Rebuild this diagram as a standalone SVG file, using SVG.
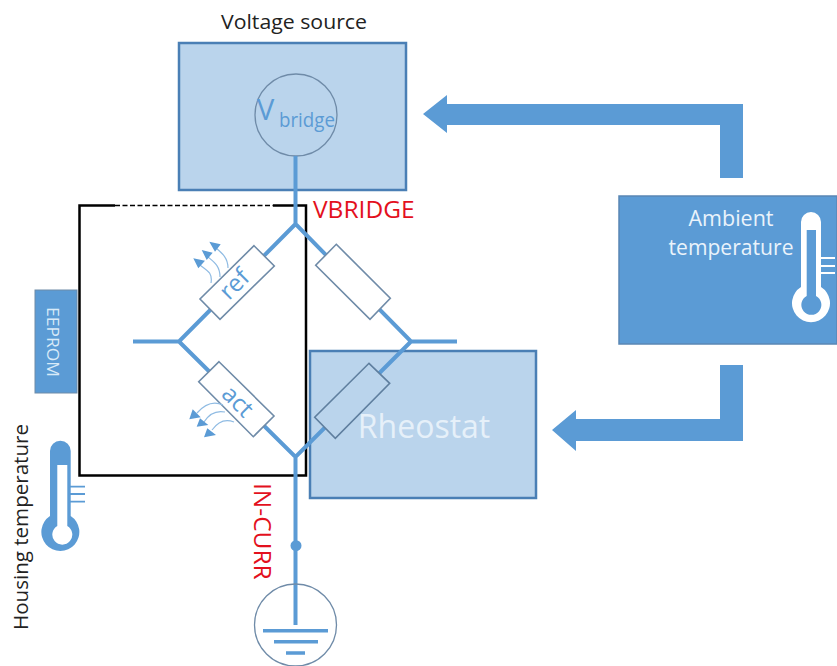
<svg xmlns="http://www.w3.org/2000/svg" width="837" height="666" viewBox="0 0 837 666">
<style>
text{font-family:"Open Sans","Noto Sans","Liberation Sans",sans-serif}
.box{fill:#bad4ec;stroke:#4a7fb5;stroke-width:2.5}
.solid{fill:#5b9bd5}
.wire{fill:none;stroke:#5b9bd5;stroke-width:4}
.res{fill:#fff;stroke:#6f8ba8;stroke-width:1.6}
.ring{fill:none;stroke:#6f8ba8;stroke-width:1.3}
.wavy{fill:none;stroke:#8fbbe3;stroke-width:1.2}
.red{fill:#e3101d;font-size:24.5px}
.dark{fill:#222;font-size:20.5px}
</style>
<rect width="837" height="666" fill="#fff"/>
<g id="bridge-frame" fill="none" stroke="#000">
<path d="M115 205.500H79.500V475.500H306V205.500H273" stroke-width="2.500"/>
<path d="M115 205.500H273" stroke-width="1.500" stroke-dasharray="5 2.500"/>
</g>
<g id="voltage-source">
<rect class="box" x="179" y="43" width="227" height="147"/>
<circle class="ring" cx="296" cy="115" r="41"/>
<text x="257" y="120" font-size="29" fill="#5b9bd5">V</text>
<text x="279" y="127" font-size="20" fill="#5b9bd5" textLength="56" lengthAdjust="spacingAndGlyphs">bridge</text>
<text class="dark" x="294" y="29" text-anchor="middle" textLength="146" lengthAdjust="spacingAndGlyphs">Voltage source</text>
</g>
<g id="rheostat">
<rect class="box" x="310" y="351" width="226" height="147"/>
<text x="424" y="438" font-size="32" fill="#e6f0f9" text-anchor="middle">Rheostat</text>
</g>
<g id="connectors">
<path class="wire" d="M295.500 156V224L411 341.500H457M295.500 224L179 341.500H133M179 341.500L295.500 457L411 341.500M295.500 457V625"/>
<path class="solid" d="M720 178H743V104H447V95L423 114L447 133V125H720Z"/>
<path class="solid" d="M720 365H743V441H576V451L552 430L576 410V419H720Z"/>
</g>
<g id="res-ref">
<path class="res" d="M254 245.700L274.300 266L220 319.300L200 299Z"/>
<text x="0" y="0" font-size="24" fill="#5b9bd5" text-anchor="middle" transform="translate(240 290) rotate(-45)">ref</text>
</g>
<g id="res-act">
<path class="res" d="M219 361.700L274 416L253.300 436.700L198.700 381.700Z"/>
<text x="0" y="0" font-size="24" fill="#5b9bd5" text-anchor="middle" transform="translate(232 407) rotate(45)">act</text>
</g>
<g id="res-top-right">
<path class="res" d="M336.300 244.300L390.300 298.300L370 319.300L315.700 265.300Z"/>
</g>
<g id="res-bottom-right">
<path d="M369 363.300L389.700 383.300L335.300 438.300L314.700 417.300Z" fill="#bad4ec" stroke="#5f7f9f" stroke-width="1.600"/>
</g>
<g id="ref-heat">
<path class="wavy" d="M211 283C213 272 206 270 200 265M220 277C220 266 214 262 208 257M228 268C228 258 222 253 216 248"/>
<path class="solid" d="M193.300 258.300L205 260.700L198.300 268.300ZM201.700 250L212.700 252.700L206.700 260ZM209.300 241.700L220.700 244.300L215 251.700Z"/>
</g>
<g id="act-heat">
<path class="wavy" d="M223 405C212 400 204 405 197 413M225 412C215 410 209 414 204 422M234 422C224 418 217 423 212 430"/>
<path class="solid" d="M189.300 419.300L192.700 409.300L200.700 417.300ZM196.700 426.700L200 418.300L208.300 425ZM204 437.300L207.300 428.300L216 435Z"/>
</g>
<g id="eeprom">
<rect class="solid" x="35" y="290" width="42" height="103" stroke="#6f8ba8" stroke-width="1"/>
<text transform="translate(47 342) rotate(90)" font-size="17" fill="#d8eaf8" text-anchor="middle" textLength="70" lengthAdjust="spacingAndGlyphs">EEPROM</text>
</g>
<g id="housing-temperature">
<path class="solid" d="M50 516V451A10.300 10.300 0 0 1 70.700 451V516A19 19 0 1 1 50 516Z"/>
<path d="M57.300 465H67.300V526A10 10 0 1 1 57.300 526Z" fill="#fff"/>
<path d="M68 486.700H85M68 494H85M68 501.700H85" fill="none" stroke="#5b9bd5" stroke-width="1.800"/>
<text class="dark" transform="translate(28 527) rotate(-90)" text-anchor="middle" textLength="206" lengthAdjust="spacingAndGlyphs">Housing temperature</text>
</g>
<g id="ambient-temperature">
<rect x="619" y="196" width="218" height="148" fill="#5b9bd5" stroke="#5a87b4" stroke-width="1.500"/>
<text x="731" y="226" font-size="21" fill="#eaf3fb" text-anchor="middle" textLength="85" lengthAdjust="spacingAndGlyphs">Ambient</text>
<text x="731" y="255" font-size="21" fill="#eaf3fb" text-anchor="middle" textLength="125" lengthAdjust="spacingAndGlyphs">temperature</text>
<path d="M801 287V222A10 10 0 0 1 821 222V287A19 19 0 1 1 801 287Z" fill="#fff"/>
<path d="M806.700 230H816V296A10 10 0 1 1 806.700 296Z" fill="#5b9bd5"/>
<path d="M821 258H835M821 266H835M821 273H835" fill="none" stroke="#fff" stroke-width="1.800"/>
</g>
<g id="ground">
<circle class="ring" cx="295.500" cy="625" r="41"/>
<circle class="solid" cx="296" cy="545.700" r="5.500"/>
<path d="M263 630.700H328M274 641.700H318M286 653H305" fill="none" stroke="#5b9bd5" stroke-width="3.500"/>
</g>
<g id="labels">
<text class="red" x="313" y="218">VBRIDGE</text>
<text class="red" transform="translate(254 483) rotate(90)">IN-CURR</text>
</g>
</svg>
